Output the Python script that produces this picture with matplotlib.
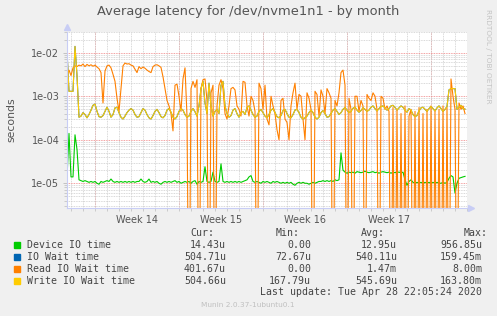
import numpy as np
import matplotlib
matplotlib.use('Agg')
import matplotlib.pyplot as plt
import matplotlib.dates as mdates
from matplotlib.patches import Rectangle

# munin "diskstats_latency" month view, one sample every 4 hours (values in microseconds)
start = np.datetime64('2020-03-26T16:00')
step_h = 4

device_io_us = [
    13, 140, 14, 14, 130, 60, 12, 11.5, 11, 11.5,
    11, 10.5, 11, 10.5, 11, 10, 9.5, 11, 10.5, 11,
    11.5, 11, 12.5, 11, 10.5, 11, 10.5, 11, 10.5, 11,
    10.5, 11, 10.5, 11, 10.5, 11, 11, 12.5, 11, 10.5,
    11, 12.5, 10.5, 11, 10.5, 11, 10, 9.5, 10.5, 11,
    10.5, 11, 10.5, 11, 11.5, 10.5, 11, 10, 10.5, 11,
    10.5, 11, 10, 11, 11.5, 9.5, 11, 10.5, 11, 24,
    11, 10.5, 11, 18, 11, 10.5, 11, 28, 11, 10.5,
    11, 10.5, 11, 10.5, 11, 10.5, 11, 10.5, 11, 11.5,
    12, 14, 15, 11, 10.5, 11, 10.5, 10, 11, 10.5,
    11, 10.5, 10, 11, 10.5, 11, 10.5, 10, 10.5, 10,
    10.5, 10, 10.5, 9.5, 9, 10, 10.5, 10, 10.5, 10,
    10, 9.5, 10, 10.5, 10, 10.5, 11, 11, 11.5, 11,
    11.5, 11, 11.5, 11, 12, 11.5, 12, 50, 20, 18,
    17, 18, 17.5, 18, 17, 18.5, 18, 17.5, 18, 19,
    18, 17.5, 18, 18.5, 17.5, 18, 17, 18, 18.5, 18,
    17.5, 18, 17, 18, 17.5, 18, 18, 17.5, 18, 12,
    9, 11, 12, 10.5, 10, 10.5, 10, 10.5, 10, 10.5,
    10, 10.5, 10, 10.5, 10, 10.5, 10, 10, 10.5, 10,
    10.5, 13, 15, 14, 6, 10, 13, 13.5, 14, 14.4,
]

read_wait_us = [
    3000, 4000, 3000, 4500, 5000, 4800, 5200, 5000, 5500, 4800,
    5400, 5000, 5300, 4900, 5200, 4700, 4300, 3500, 700, 3800,
    5000, 5200, 4500, 3200, 2200, 900, 450, 1500, 5000, 5800,
    5500, 5600, 5200, 5000, 4200, 3500, 4800, 4300, 4700, 4400,
    4000, 3700, 3500, 4800, 5200, 5300, 5000, 4600, 2800, 1500,
    800, 600, 400, 160, 1800, 1900, 1000, 450, 2500, 4500,
    350, 0, 1500, 2200, 1600, 2400, 0, 1500, 2400, 2500,
    800, 0, 1200, 1800, 0, 600, 1800, 2400, 1500, 400,
    300, 600, 1500, 1600, 1400, 600, 500, 350, 2200, 2100,
    600, 350, 1000, 800, 450, 0, 2000, 1500, 500, 1800,
    300, 220, 1000, 600, 400, 170, 100, 800, 900, 300,
    250, 100, 600, 1200, 2000, 500, 1100, 1000, 300, 100,
    1200, 900, 500, 0, 1300, 1100, 350, 1400, 1000, 400,
    1500, 1200, 900, 0, 800, 600, 1200, 3500, 4000, 1800,
    0, 900, 500, 0, 1000, 1000, 450, 800, 600, 0,
    1100, 900, 800, 1200, 1000, 500, 0, 1000, 900, 500,
    600, 450, 0, 550, 0, 500, 0, 400, 0, 600,
    0, 350, 500, 0, 450, 0, 550, 0, 400, 0,
    500, 0, 600, 0, 450, 0, 500, 0, 600, 0,
    550, 0, 2500, 1000, 500, 0, 700, 500, 600, 400,
]

write_wait_us = [
    11000, 1300, 1300, 1300, 14000, 3000, 330, 350, 420, 380,
    320, 380, 480, 620, 660, 450, 340, 330, 360, 450,
    560, 450, 330, 380, 540, 560, 420, 330, 300, 350,
    420, 480, 520, 480, 380, 330, 340, 420, 520, 480,
    380, 320, 300, 360, 450, 500, 420, 340, 320, 360,
    480, 520, 430, 330, 300, 340, 450, 520, 480, 380,
    330, 350, 450, 520, 440, 350, 600, 1500, 2200, 700,
    400, 2000, 600, 350, 450, 500, 400, 1800, 2200, 600,
    400, 330, 360, 480, 520, 400, 330, 420, 450, 380,
    550, 600, 480, 380, 330, 350, 450, 500, 420, 350,
    320, 380, 480, 520, 420, 340, 320, 360, 470, 500,
    400, 330, 320, 380, 480, 500, 420, 330, 300, 320,
    350, 420, 480, 420, 330, 300, 330, 420, 470, 400,
    330, 340, 400, 480, 520, 450, 380, 420, 500, 550,
    480, 420, 450, 530, 560, 480, 430, 470, 540, 500,
    450, 480, 560, 600, 520, 460, 520, 580, 600, 540,
    480, 520, 600, 620, 550, 480, 540, 600, 560, 480,
    430, 520, 480, 380, 340, 360, 460, 540, 560, 500,
    450, 520, 580, 520, 460, 540, 600, 520, 450, 500,
    580, 1400, 1500, 1500, 1500, 500, 560, 620, 520, 505,
]

# overall IO wait follows the write wait almost exactly
io_wait_us = list(write_wait_us)

week_labels = ['Week 14', 'Week 15', 'Week 16', 'Week 17']
week_starts = ['2020-03-29', '2020-04-05', '2020-04-12', '2020-04-19', '2020-04-26']

legend_rows = [
    ('Device IO time', '#00cc00', '14.43u', '0.00', '12.95u', '956.85u'),
    ('IO Wait time', '#0066b3', '504.71u', '72.67u', '540.11u', '159.45m'),
    ('Read IO Wait time', '#ff8000', '401.67u', '0.00', '1.47m', '8.00m'),
    ('Write IO Wait time', '#ffcc00', '504.66u', '167.79u', '545.69u', '163.80m'),
]

n = len(device_io_us)
t = start + np.arange(n) * np.timedelta64(step_h, 'h')
t = t.astype('datetime64[m]').astype(object)

W, H = 497, 316
def fx(px):
    return px / W
def fy(py):
    return 1 - py / H

fig = plt.figure(figsize=(W / 100, H / 100), dpi=100, facecolor='#f0f0f0')
ax = fig.add_axes([fx(67), fy(208), 400 / W, 176 / H])
ax.set_facecolor('white')

def secs(us):
    v = np.array(us, dtype=float) * 1e-6
    return np.where(v > 0, v, 1e-9)  # zero drops to the bottom, like rrdtool

ax.plot(t, secs(device_io_us), color='#00cc00', lw=0.8)
ax.plot(t, secs(io_wait_us), color='#0066b3', lw=0.8)
ax.plot(t, secs(read_wait_us), color='#ff8000', lw=0.8)
ax.plot(t, secs(write_wait_us), color='#ffcc00', lw=0.8)

ax.set_yscale('log')
ax.set_ylim(2.7e-6, 3.0e-2)
x0 = np.datetime64('2020-03-26T16:00').astype(object)
x1 = np.datetime64('2020-04-29T00:00').astype(object)
ax.set_xlim(x0, x1)

# grid, munin style
dots = (0, (1, 1))
ax.yaxis.set_major_locator(matplotlib.ticker.LogLocator(base=10, numticks=10))
ax.yaxis.set_minor_locator(matplotlib.ticker.LogLocator(base=10, subs=range(2, 10), numticks=10))
ax.yaxis.set_major_formatter(matplotlib.ticker.FuncFormatter(lambda v, p: '%.0e' % v))
ax.yaxis.set_minor_formatter(matplotlib.ticker.NullFormatter())
ax.xaxis.set_minor_locator(mdates.DayLocator())
mid = [np.datetime64(d) + np.timedelta64(84, 'h') for d in week_starts[:-1]]
ax.set_xticks([m.astype('datetime64[m]').astype(object) for m in mid])
ax.set_xticklabels(week_labels)

ax.grid(False)
ax.grid(which='minor', axis='both', color='#cccccc', linestyle=dots, lw=0.6)
ax.grid(which='major', axis='y', color='#f08080', linestyle=dots, lw=0.6)
for d in week_starts:
    ax.axvline(np.datetime64(d).astype('datetime64[m]').astype(object),
               color='#f08080', linestyle=dots, lw=0.6, zorder=0.5)

ax.tick_params(axis='both', which='both', labelsize=7, labelcolor='#555555', colors='#bbbbbb')
ax.tick_params(axis='y', which='major', length=3, width=0.6, pad=2.5)
ax.tick_params(axis='y', which='minor', length=2, width=0.5)
ax.tick_params(axis='x', which='major', length=0, pad=5)
ax.tick_params(axis='x', which='minor', length=2, width=0.5)
for lab in ax.get_xticklabels() + ax.get_yticklabels():
    lab.set_color('#555555')

for s in ['top', 'right']:
    ax.spines[s].set_visible(False)
for s in ['left', 'bottom']:
    ax.spines[s].set_color('#c8cdf5')
    ax.spines[s].set_linewidth(0.8)
ax.plot([0], [1.03], marker='^', ms=4, color='#c8cdf5', transform=ax.transAxes, clip_on=False)
ax.plot([1.01], [0], marker='>', ms=4, color='#c8cdf5', transform=ax.transAxes, clip_on=False)

fig.text(fx(248), fy(12), 'Average latency for /dev/nvme1n1 - by month',
         ha='center', va='center', fontsize=9.4, color='#555555')
fig.text(fx(11), fy(120), 'seconds', rotation=90, ha='center', va='center',
         fontsize=7.8, color='#555555')
fig.text(fx(488), fy(56), 'RRDTOOL / TOBI OETIKER', rotation=270, ha='center', va='center',
         fontsize=5.3, color='#c4c4c4')

# legend table
mono = 'DejaVu Sans Mono'
fs = 7.1
tc = '#444444'
for x, h in zip([190, 276, 361, 464], ['Cur:', 'Min:', 'Avg:', 'Max:']):
    fig.text(fx(x), fy(233), h, family=mono, fontsize=fs, color=tc, ha='left', va='center')
for i, (name, col, cur, mn, avg, mx) in enumerate(legend_rows):
    y = 245 + 12 * i
    fig.add_artist(Rectangle((fx(14), fy(y + 2.5)), 5.5 / W, 5.5 / H, color=col,
                             transform=fig.transFigure))
    fig.text(fx(27), fy(y), name, family=mono, fontsize=fs, color=tc, va='center')
    for x, v in zip([226, 311, 397, 482], [cur, mn, avg, mx]):
        fig.text(fx(x), fy(y), v, family=mono, fontsize=fs, color=tc, ha='right', va='center')
fig.text(fx(482), fy(292), 'Last update: Tue Apr 28 22:05:24 2020', family=mono,
         fontsize=fs, color=tc, ha='right', va='center')
fig.text(fx(248), fy(305), 'Munin 2.0.37-1ubuntu0.1', ha='center', va='center',
         fontsize=5.3, color='#c0c0c0')

fig.savefig('out.png', dpi=100, facecolor=fig.get_facecolor())
